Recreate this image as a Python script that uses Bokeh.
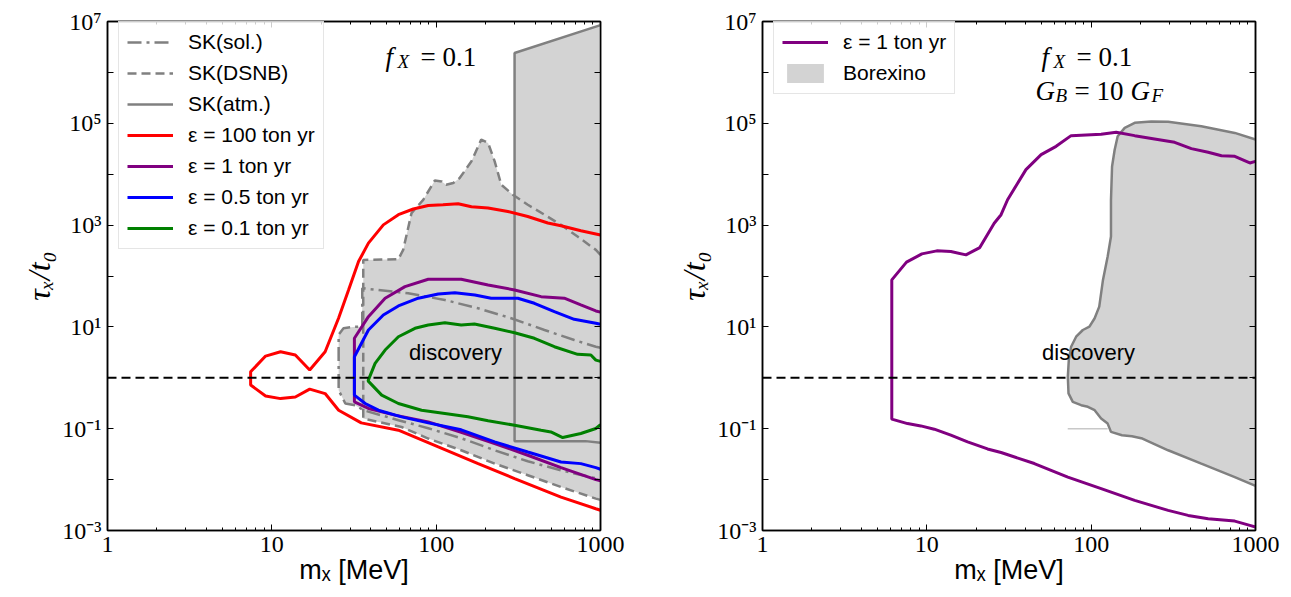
from bokeh.plotting import figure
from bokeh.models import (Range1d, FixedTicker, CustomJSTickFormatter, LogAxis, Label,
                          Legend, LegendItem, Span)
from bokeh.layouts import row
from bokeh.embed import file_html
from bokeh.resources import INLINE

# ---------------- data ----------------
X_MAJOR = [1, 10, 100, 1000]
X_MINOR = [2, 3, 4, 5, 6, 7, 8, 9, 20, 30, 40, 50, 60, 70, 80, 90,
           200, 300, 400, 500, 600, 700, 800, 900]
Y_MAJOR = [1e-3, 1e-2, 1e-1, 1, 1e1, 1e2, 1e3, 1e4, 1e5, 1e6, 1e7]
X_LABEL = "mₓ [MeV]"
Y_LABEL = "τₓ/t₀"

# left panel: epsilon = 100 ton yr
red_x = [1000, 760, 575, 478, 361, 273, 207, 164, 136, 110, 89.5, 72.6, 58.9, 47.7, 38.7, 33.7,
         29.3, 25.5, 21.1, 17.0, 13.9, 11.3, 9.16, 7.43, 7.43, 9.16, 11.3, 13.9, 17.0, 21.1,
         25.5, 35, 58.9, 103, 180, 300, 575, 936, 1000]
red_y = [640, 773, 970, 1100, 1475, 1850, 2160, 2290, 2630, 2510, 2430, 2070, 1600, 1010, 442, 192,
         53, 15, 3.25, 1.42, 2.8, 3.25, 2.67, 1.31, 0.72, 0.44, 0.39, 0.42, 0.6, 0.49,
         0.231, 0.13, 0.0935, 0.0438, 0.0207, 0.0105, 0.00454, 0.00268, 0.0025]

# epsilon = 1 ton yr
pur_x = [1000, 937, 759, 602, 435, 300, 207, 142, 89.5, 64.6, 48.9, 38.7, 31.8,
         31.8, 38.7, 56.1, 89.5, 142, 227, 361, 575, 937, 1000]
pur_y = [19.5, 20.6, 27, 36.6, 39.3, 53.2, 66.8, 86.5, 86.5, 61.9, 36.6, 15.9, 5.97,
         0.337, 0.25, 0.185, 0.136, 0.085, 0.0511, 0.0301, 0.0172, 0.01, 0.0095]

# epsilon = 0.5 ton yr
blu_x = [1000, 937, 692, 524, 396, 314, 216, 172, 130, 103, 77.8, 58.9, 47.7, 38.7, 31.8,
         31.8, 37, 44.5, 61.6, 89.5, 142, 227, 361, 575, 759, 937, 1000]
blu_y = [11.3, 11.8, 14.1, 19.9, 29.1, 36.6, 36.6, 42.5, 47.1, 44.4, 36.6, 25.8, 17.1, 8.69, 2.59,
         0.456, 0.313, 0.231, 0.171, 0.13, 0.095, 0.055, 0.0349, 0.0222, 0.0206, 0.0172, 0.016]

# epsilon = 0.1 ton yr
grn_x = [1000, 937, 874, 726, 524, 396, 300, 227, 171, 142, 113, 89.5, 74.3, 58.9, 48.9, 42.5,
         38.5, 46.6, 58.9, 81.5, 113, 156, 207, 300, 435, 499, 589, 759, 937, 1000]
grn_y = [2.1, 2.23, 2.8, 2.89, 4.08, 5.97, 7.69, 9.38, 11.4, 10.9, 12.1, 10.9, 9.38, 6.41, 3.51, 1.92,
         0.87, 0.456, 0.313, 0.231, 0.199, 0.171, 0.143, 0.117, 0.0934, 0.0865, 0.0671, 0.0805,
         0.101, 0.12]

# SK(DSNB)
dsnb_x = [1000, 937, 725, 575, 456, 361, 293, 249, 227, 207, 188, 164, 139, 127, 115, 108, 98.2,
          83.4, 70.8, 63, 58.9, 36, 36, 44.5, 61.6, 89.5, 142, 227, 361, 575, 937, 1000]
dsnb_y = [260, 326, 597, 1010, 1600, 2510, 3950, 6210, 17900, 41100, 47800, 17900, 8410, 6710,
          6210, 7210, 7550, 3140, 1720, 326, 214, 207, 0.159, 0.136, 0.108, 0.0641, 0.0377,
          0.0206, 0.0122, 0.00715, 0.00423, 0.004]

# SK(sol.)
sol_x = [1000, 937, 692, 456, 286, 180, 113, 67.6, 35.5, 35.5, 32.1, 27.3, 25.5, 25.5, 28,
         32.1, 36.1, 58.9, 89.5, 142, 227, 361, 575, 937, 1000]
sol_y = [3.9, 4.08, 5.52, 8.69, 14.8, 23.2, 33.8, 45.8, 57.5, 10.1, 10.1, 9.4, 7.0, 0.57, 0.313,
         0.29, 0.231, 0.147, 0.102, 0.065, 0.0377, 0.0229, 0.0152, 0.0106, 0.01]

# SK(atm.)
atm_x = [1000, 300, 300, 811, 1000]
atm_y = [8.5e6, 2.4e6, 0.057, 0.057, 0.053]

# right panel: epsilon = 1 ton yr
rp_x = [1000, 923, 748, 621, 515, 407, 322, 243, 184, 142, 115, 75.5, 61.2, 49.6, 40.1, 31, 28.3,
        25.7, 21, 17.3, 14, 11.5, 9.33, 7.52, 6.12, 6.12, 7.63, 9.19, 11.1, 14, 17.7, 23.4, 28.3,
        45.1, 72.1, 115, 184, 294, 389, 515, 748, 923, 1000]
rp_y = [17900, 16600, 22400, 23100, 26900, 31800, 42300, 49300, 57200, 66500, 60700, 57200, 35300,
        24200, 12300, 3150, 1600, 1090, 362, 260, 302, 312, 272, 187, 83.8, 0.154, 0.126, 0.1135,
        0.0977, 0.0745, 0.055, 0.04, 0.034, 0.0207, 0.0112, 0.00666, 0.0039, 0.00249, 0.00198,
        0.0017, 0.00153, 0.00126, 0.00117]

# Borexino
bor_x = [1000, 748, 468, 294, 232, 184, 160, 145, 139, 134, 132, 132, 126, 118, 112, 105, 97.6, 89,
         81, 75.5, 73.1, 72.1, 72.8, 77.3, 86.9, 95.5, 105, 115, 126, 132, 154, 177, 205, 294, 468,
         748, 1000]
bor_y = [48000, 64700, 87300, 107000, 109000, 102000, 81200, 55500, 30300, 14200, 3120, 597, 241,
         83.8, 25, 14.8, 10.1, 8.69, 6.41, 4.08, 2.23, 1.05, 0.493, 0.337, 0.29, 0.269, 0.231, 0.159,
         0.126, 0.0865, 0.0745, 0.0711, 0.0641, 0.0377, 0.0206, 0.0112, 0.0075]
faint_x = [72, 126]
faint_y = [0.1, 0.1]

DISCOVERY_LEVEL = 1.0

RED, PURPLE, BLUE, GREEN = "#ff0000", "#800080", "#0000ff", "#008000"
GRAY, FILL = "#808080", "#d3d3d3"
SERIF, SANS = "Liberation Serif", "Liberation Sans"

X_FMT = "return String(Math.round(tick));"
Y_FMT = """
const e = Math.round(Math.log10(tick));
if (e % 2 === 0) { return ""; }
const sup = {"-": "⁻", "0": "⁰", "1": "¹", "2": "²", "3": "³", "4": "⁴",
             "5": "⁵", "6": "⁶", "7": "⁷", "8": "⁸", "9": "⁹"};
return "10" + String(e).split("").map(function(c){ return sup[c]; }).join("");
"""

FRAME_H = 509


def style_axis(ax, ticker, code, show_labels=True):
    ax.ticker = ticker
    ax.formatter = CustomJSTickFormatter(code=code if show_labels else "return '';")
    ax.major_tick_in = 6
    ax.major_tick_out = 0
    ax.minor_tick_in = 3
    ax.minor_tick_out = 0
    ax.major_tick_line_color = "black"
    ax.minor_tick_line_color = "black"
    ax.major_tick_line_width = 1
    ax.minor_tick_line_width = 1
    ax.axis_line_color = "black"
    ax.axis_line_width = 1.5
    ax.major_label_text_font = SERIF
    ax.major_label_text_color = "black"
    if show_labels:
        ax.major_label_text_font_size = "24px"
        ax.major_label_standoff = 6
    else:
        ax.major_label_text_font_size = "1px"
        ax.major_label_standoff = 0


def make_fig(width, border_right):
    p = figure(width=width, height=596, x_axis_type="log", y_axis_type="log",
               x_range=Range1d(1, 1000), y_range=Range1d(1e-3, 1e7),
               output_backend="svg", toolbar_location=None,
               min_border_left=107, min_border_right=border_right,
               min_border_top=21, min_border_bottom=66)
    p.xgrid.visible = False
    p.ygrid.visible = False
    p.outline_line_color = "black"
    p.outline_line_width = 1.5
    p.background_fill_color = "white"
    p.border_fill_color = "white"
    xt = FixedTicker(ticks=X_MAJOR, minor_ticks=X_MINOR)
    yt = FixedTicker(ticks=Y_MAJOR, minor_ticks=[])
    xa, ya = p.xaxis[0], p.yaxis[0]
    style_axis(xa, xt, X_FMT)
    style_axis(ya, yt, Y_FMT)
    xa.axis_label = X_LABEL
    xa.axis_label_text_font = SANS
    xa.axis_label_text_font_style = "normal"
    xa.axis_label_text_font_size = "27px"
    xa.axis_label_standoff = 0
    xa.axis_label_text_color = "black"
    ya.axis_label = Y_LABEL
    ya.axis_label_text_font = SERIF
    ya.axis_label_text_font_style = "italic"
    ya.axis_label_text_font_size = "32px"
    ya.axis_label_standoff = 2
    ya.axis_label_text_color = "black"
    top = LogAxis()
    style_axis(top, xt, X_FMT, show_labels=False)
    p.add_layout(top, "above")
    right = LogAxis()
    style_axis(right, yt, Y_FMT, show_labels=False)
    p.add_layout(right, "right")
    return p


def txt(p, s, sx, sy, size, font=SERIF, style="normal", align="left", baseline="alphabetic"):
    p.add_layout(Label(x=sx, y=sy, x_units="screen", y_units="screen", text=s,
                       text_font=font, text_font_style=style, text_font_size=f"{size}px",
                       text_align=align, text_baseline=baseline, text_color="black"))


def style_legend(lg):
    lg.label_text_font = SANS
    lg.label_text_font_size = "21px"
    lg.label_text_color = "black"
    lg.glyph_width = 46
    lg.glyph_height = 24
    lg.label_height = 24
    lg.spacing = 7
    lg.padding = 8
    lg.label_standoff = 15
    lg.margin = 0
    lg.border_line_color = "#cccccc"
    lg.border_line_width = 1
    lg.background_fill_color = "white"
    lg.background_fill_alpha = 0.8


# ---------------- left panel ----------------
p1 = make_fig(655, 55)
p1.patch(atm_x, atm_y, fill_color=FILL, line_color=None)
p1.patch(dsnb_x, dsnb_y, fill_color=FILL, line_color=None)
p1.patch(sol_x, sol_y, fill_color=FILL, line_color=None)

r_atm = p1.line(atm_x, atm_y, line_color=GRAY, line_width=2.5)
r_sol = p1.line(sol_x, sol_y, line_color=GRAY, line_width=2.5, line_dash="14 5 3 5")
r_dsnb = p1.line(dsnb_x, dsnb_y, line_color=GRAY, line_width=2.5, line_dash="9 5")
r_red = p1.line(red_x, red_y, line_color=RED, line_width=3)
r_pur = p1.line(pur_x, pur_y, line_color=PURPLE, line_width=3)
r_blu = p1.line(blu_x, blu_y, line_color=BLUE, line_width=3)
r_grn = p1.line(grn_x, grn_y, line_color=GREEN, line_width=3)
p1.add_layout(Span(location=DISCOVERY_LEVEL, dimension="width", line_color="black",
                   line_width=2, line_dash="9 5"))

lg1 = Legend(items=[
    LegendItem(label="SK(sol.)", renderers=[r_sol]),
    LegendItem(label="SK(DSNB)", renderers=[r_dsnb]),
    LegendItem(label="SK(atm.)", renderers=[r_atm]),
    LegendItem(label="ε = 100 ton yr", renderers=[r_red]),
    LegendItem(label="ε = 1 ton yr", renderers=[r_pur]),
    LegendItem(label="ε = 0.5 ton yr", renderers=[r_blu]),
    LegendItem(label="ε = 0.1 ton yr", renderers=[r_grn]),
], location=(11, FRAME_H - 2 - 226))
style_legend(lg1)
p1.add_layout(lg1)

txt(p1, "f", 278, 474, 27, style="italic")
txt(p1, "X", 290, 469, 19, style="italic")
txt(p1, "= 0.1", 313, 474, 27)
txt(p1, "discovery", 348, 178, 22, font=SANS, align="center", baseline="middle")

# ---------------- right panel ----------------
p2 = make_fig(630, 30)
r_bor = p2.patch(bor_x, bor_y, fill_color=FILL, line_color=None)
p2.line(bor_x, bor_y, line_color=GRAY, line_width=2.5)
p2.line(faint_x, faint_y, line_color="#c8c8c8", line_width=1.5)
r_rp = p2.line(rp_x, rp_y, line_color=PURPLE, line_width=3)
p2.add_layout(Span(location=DISCOVERY_LEVEL, dimension="width", line_color="black",
                   line_width=2, line_dash="9 5"))

lg2 = Legend(items=[
    LegendItem(label="ε = 1 ton yr", renderers=[r_rp]),
    LegendItem(label="Borexino", renderers=[r_bor]),
], location=(11, FRAME_H - 2 - 71))
style_legend(lg2)
p2.add_layout(lg2)

txt(p2, "f", 279, 474, 27, style="italic")
txt(p2, "X", 291, 469, 19, style="italic")
txt(p2, "= 0.1", 314, 474, 27)
txt(p2, "G", 273, 440, 27, style="italic")
txt(p2, "B", 293, 435, 19, style="italic")
txt(p2, "= 10", 312, 440, 27)
txt(p2, "G", 368, 440, 27, style="italic")
txt(p2, "F", 389, 435, 19, style="italic")
txt(p2, "discovery", 326, 178, 22, font=SANS, align="center", baseline="middle")

layout = row(p1, p2)
open("out.html", "w").write(file_html(layout, INLINE))
